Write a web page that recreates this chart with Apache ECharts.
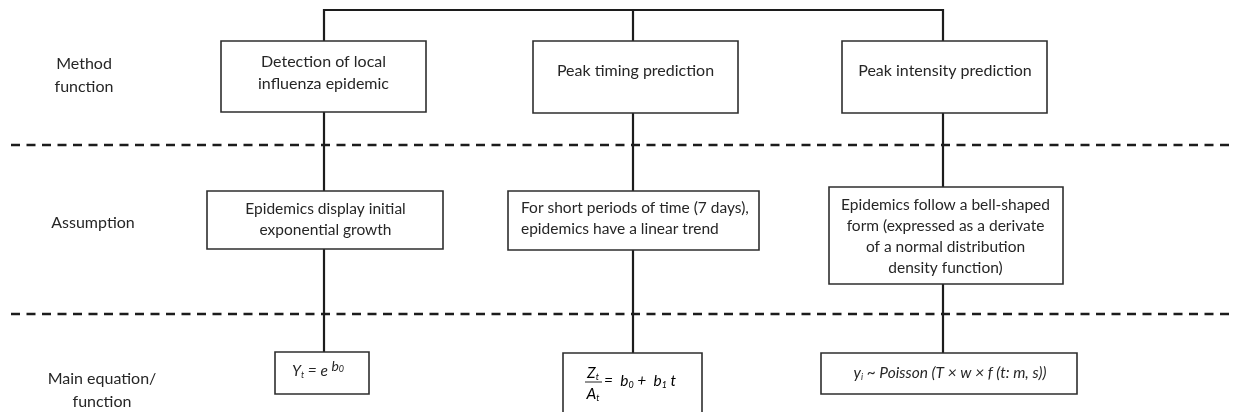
<!DOCTYPE html>
<html>
<head>
<meta charset="utf-8">
<script src="https://cdn.jsdelivr.net/npm/echarts@6/dist/echarts.min.js"></script>
<style>html,body{margin:0;padding:0;background:#fff}#c{width:1235px;height:412px}</style>
</head>
<body>
<div id="c"></div>
<script>
// ---- content ----
const rowLabels = ['Method\nfunction', 'Assumption', 'Main equation/\nfunction'];
const methodFunctions = ['Detection of local\ninfluenza epidemic', 'Peak timing prediction', 'Peak intensity prediction'];
const assumptions = [
  'Epidemics display initial\nexponential growth',
  'For short periods of time (7 days),\nepidemics have a linear trend',
  'Epidemics follow a bell-shaped\nform (expressed as a derivate\nof a normal distribution\ndensity function)'
];
const equations = [
  '{i|Y}{sb|t}{i| = e }{sp|b}{sps|0}',
  { num: '{i|Z}{sb|t}', den: '{i|A}{sb|t}', rhs: '{i|=  b}{sb|0}{i| +  b}{sb|1}{i| t}' },
  '{i|y}{sb|i}{i| ~ Poisson (T × w × f (t: m, s))}'
];

// ---- layout (data coordinates: x 0..1235, y 0..412 downward) ----
const colX = [324, 633, 943];
const bracketY = 10;
const separatorY = [145, 314];
const rowLabelPos = [[84, 75], [93, 223], [102, 390]];
// box: [x0, y0, x1, y1, textX, textY, align]
const methodBoxes = [[221, 41, 426, 112, 323.5, 72.5, 'center'], [533, 41, 738, 113, 635.5, 71, 'center'], [842, 41, 1047, 113, 945, 71, 'center']];
const assumptionBoxes = [[207, 191, 443, 249, 325.5, 219, 'center'], [508, 191, 759, 250, 521, 218.5, 'left'], [829, 187, 1063, 284, 945.5, 236, 'center']];
const equationBoxes = [[275, 352, 369, 394, 318, 371, 'center'], [563, 353, 702, 414, 0, 0, 'center'], [821, 353, 1077, 394, 950, 373, 'center']];

const FONT = 'Lato, "Open Sans", sans-serif';
const TXT = '#262626';
const rich = {
  i: { fontFamily: FONT, fontStyle: 'italic', fontSize: 15.5, color: TXT, lineHeight: 24, verticalAlign: 'middle' },
  sb: { fontFamily: FONT, fontStyle: 'italic', fontSize: 9, color: TXT, verticalAlign: 'bottom', padding: [0, 0, 3, 0] },
  sp: { fontFamily: FONT, fontStyle: 'italic', fontSize: 14, color: TXT, verticalAlign: 'top' },
  sps: { fontFamily: FONT, fontStyle: 'italic', fontSize: 9, color: TXT, verticalAlign: 'top', padding: [6, 0, 0, 0] }
};

const boxes = [];
const boxTexts = [];
methodBoxes.forEach((b, k) => { boxes.push(b); boxTexts.push({ t: methodFunctions[k], lh: 22, fs: 16 }); });
assumptionBoxes.forEach((b, k) => { boxes.push(b); boxTexts.push({ t: assumptions[k], lh: 21, fs: 15.5 }); });
equationBoxes.forEach((b, k) => { boxes.push(b); boxTexts.push({ t: equations[k], eq: true }); });

// connectors
const connectors = [
  { coords: [[colX[0], 41], [colX[0], bracketY], [colX[2], bracketY], [colX[2], 41]] },
  { coords: [[colX[1], bracketY], [colX[1], 41]] }
];
for (let k = 0; k < 3; k++) {
  connectors.push({ coords: [[colX[k], methodBoxes[k][3]], [colX[k], assumptionBoxes[k][1]]] });
  connectors.push({ coords: [[colX[k], assumptionBoxes[k][3]], [colX[k], equationBoxes[k][1]]] });
}
const separators = separatorY.map(y => ({ coords: [[11, y], [1235, y]] }));

const chart = echarts.init(document.getElementById('c'), null, { renderer: 'canvas' });
chart.setOption({
  animation: false,
  backgroundColor: '#fff',
  grid: { left: 0, right: 0, top: 0, bottom: 0 },
  xAxis: { type: 'value', min: 0, max: 1235, show: false },
  yAxis: { type: 'value', min: 0, max: 412, inverse: true, show: false },
  series: [
    {
      type: 'lines', coordinateSystem: 'cartesian2d', polyline: true, silent: true,
      lineStyle: { color: '#1c1c1c', width: 2.6, type: [9, 6.5], opacity: 1 },
      data: separators, z: 1
    },
    {
      type: 'lines', coordinateSystem: 'cartesian2d', polyline: true, silent: true,
      lineStyle: { color: '#1c1c1c', width: 2.2, opacity: 1 },
      data: connectors, z: 2
    },
    {
      type: 'custom', coordinateSystem: 'cartesian2d', silent: true, z: 3,
      data: boxes.map(b => [b[0], b[1], b[2], b[3], b[4], b[5]]),
      renderItem: function (params, api) {
        const i = params.dataIndex;
        const b = boxes[i];
        const p0 = api.coord([api.value(0), api.value(1)]);
        const p1 = api.coord([api.value(2), api.value(3)]);
        const children = [{
          type: 'rect',
          shape: { x: p0[0], y: p0[1], width: p1[0] - p0[0], height: p1[1] - p0[1] },
          style: { fill: '#fff', stroke: '#2e2e2e', lineWidth: 1.6 }
        }];
        const bt = boxTexts[i];
        if (bt.eq && typeof bt.t === 'object') {
          const n = api.coord([593, 373]);
          const d = api.coord([593, 394]);
          const l0 = api.coord([585, 382]);
          const l1 = api.coord([602, 382]);
          const r = api.coord([604, 381]);
          children.push({ type: 'text', style: { text: bt.t.num, rich: rich, x: n[0], y: n[1], align: 'center', verticalAlign: 'middle' } });
          children.push({ type: 'text', style: { text: bt.t.den, rich: rich, x: d[0], y: d[1], align: 'center', verticalAlign: 'middle' } });
          children.push({ type: 'line', shape: { x1: l0[0], y1: l0[1], x2: l1[0], y2: l1[1] }, style: { stroke: TXT, lineWidth: 1 } });
          children.push({ type: 'text', style: { text: bt.t.rhs, rich: rich, x: r[0], y: r[1], align: 'left', verticalAlign: 'middle' } });
        } else {
          const tp = api.coord([api.value(4), api.value(5)]);
          const st = { text: bt.t, x: tp[0], y: tp[1], align: b[6], verticalAlign: 'middle', fill: TXT };
          if (bt.eq) { st.rich = rich; }
          else { st.font = bt.fs + 'px ' + FONT; st.lineHeight = bt.lh; }
          children.push({ type: 'text', style: st });
        }
        return { type: 'group', children: children };
      }
    },
    {
      type: 'custom', coordinateSystem: 'cartesian2d', silent: true, z: 3,
      data: rowLabelPos,
      renderItem: function (params, api) {
        const p = api.coord([api.value(0), api.value(1)]);
        return {
          type: 'text',
          style: { text: rowLabels[params.dataIndex], x: p[0], y: p[1], align: 'center', verticalAlign: 'middle',
                   font: '16px ' + FONT, lineHeight: 23, fill: TXT }
        };
      }
    }
  ]
});
</script>
</body>
</html>
